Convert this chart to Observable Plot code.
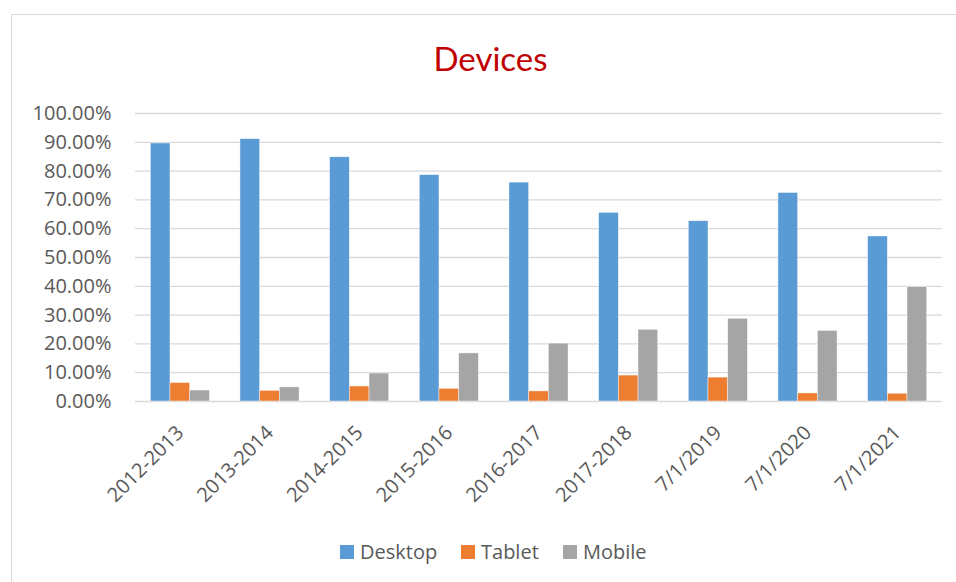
<!DOCTYPE html>
<html>
<head>
<meta charset="utf-8">
<script src="https://cdn.jsdelivr.net/npm/d3@7"></script>
<script src="https://cdn.jsdelivr.net/npm/@observablehq/plot@0.6"></script>
<style>
  html, body { margin: 0; padding: 0; background: #fff; }
  #wrap { position: relative; width: 956px; height: 582px; overflow: hidden; font-family: "Open Sans", sans-serif; }
  #frame { position: absolute; left: 11px; top: 14px; width: 1000px; height: 1000px;
           border-left: 1.5px solid #d9d9d9; border-top: 1.5px solid #d9d9d9; box-sizing: border-box; }
  #chart { position: absolute; left: 0; top: 0; }
  #chart svg { overflow: visible; }
</style>
</head>
<body>
<div id="wrap">
  <div id="frame"></div>
  <div id="chart"></div>
</div>
<script>
// ---- data ----
const title = "Devices";
const categories = ["2012-2013", "2013-2014", "2014-2015", "2015-2016", "2016-2017", "2017-2018", "7/1/2019", "7/1/2020", "7/1/2021"];
const seriesNames = ["Desktop", "Tablet", "Mobile"];
const desktop = [0.896, 0.911, 0.848, 0.786, 0.760, 0.655, 0.626, 0.724, 0.573];
const tablet  = [0.064, 0.037, 0.052, 0.044, 0.035, 0.090, 0.083, 0.028, 0.027];
const mobile  = [0.038, 0.049, 0.097, 0.167, 0.201, 0.249, 0.287, 0.245, 0.397];
const yTicks = [0, 0.1, 0.2, 0.3, 0.4, 0.5, 0.6, 0.7, 0.8, 0.9, 1.0];
const colors = ["#5B9BD5", "#ED7D31", "#A5A5A5"];

// ---- table ----
const valuesBySeries = [desktop, tablet, mobile];
const rows = [];
seriesNames.forEach((s, si) => categories.forEach((c, ci) => rows.push({category: c, series: s, value: valuesBySeries[si][ci]})));

const W = 956, H = 582;
const mL = 135, mR = 14, mT = 113, mB = 181;
const band = (W - mL - mR) / categories.length;
const barW = 19.7;
const inset = (band - barW) / 2;
const textColor = "#595959";
const font = "'Open Sans', sans-serif";

const barMarks = seriesNames.map((s, i) =>
  Plot.barY(rows.filter(d => d.series === s), {
    x: "category", y: "value", fill: "series",
    dx: (i - 1) * barW, insetLeft: inset, insetRight: inset,
    stroke: "#ffffff", strokeWidth: 0.6, strokeOpacity: 0.7
  })
);

const chart = Plot.plot({
  width: W, height: H,
  marginLeft: mL, marginRight: mR, marginTop: mT, marginBottom: mB,
  style: { fontFamily: font, color: textColor, background: "transparent" },
  x: { domain: categories, padding: 0, round: false },
  y: { domain: [0, 1] },
  color: { domain: seriesNames, range: colors },
  marks: [
    Plot.gridY(yTicks, { stroke: "#d9d9d9", strokeOpacity: 1, strokeWidth: 1.3 }),
    ...barMarks,
    Plot.axisY(yTicks, { tickFormat: d3.format(".2%"), tickSize: 0, tickPadding: 24, fontSize: 20, fill: textColor, label: null }),
    Plot.axisX({ tickRotate: -45, tickSize: 0, tickPadding: 28, fontSize: 20, fill: textColor, label: null })
  ]
});
document.getElementById("chart").appendChild(chart);

// title and legend as real SVG text
const svg = d3.select(chart);
svg.append("text")
  .attr("x", 490.5).attr("y", 71)
  .attr("text-anchor", "middle")
  .attr("fill", "#C00000")
  .style("font-family", "Lato, 'Open Sans', sans-serif")
  .style("font-size", "33px")
  .text(title);

const legendX = [340, 461, 563];
const lg = svg.append("g").attr("text-anchor", "start");
seriesNames.forEach((s, i) => {
  lg.append("rect").attr("x", legendX[i]).attr("y", 545).attr("width", 14).attr("height", 14).attr("fill", colors[i]);
  lg.append("text").attr("x", legendX[i] + 20).attr("y", 559)
    .attr("text-anchor", "start")
    .attr("fill", textColor)
    .style("font-family", font)
    .style("font-size", "20px")
    .text(s);
});
</script>
</body>
</html>
